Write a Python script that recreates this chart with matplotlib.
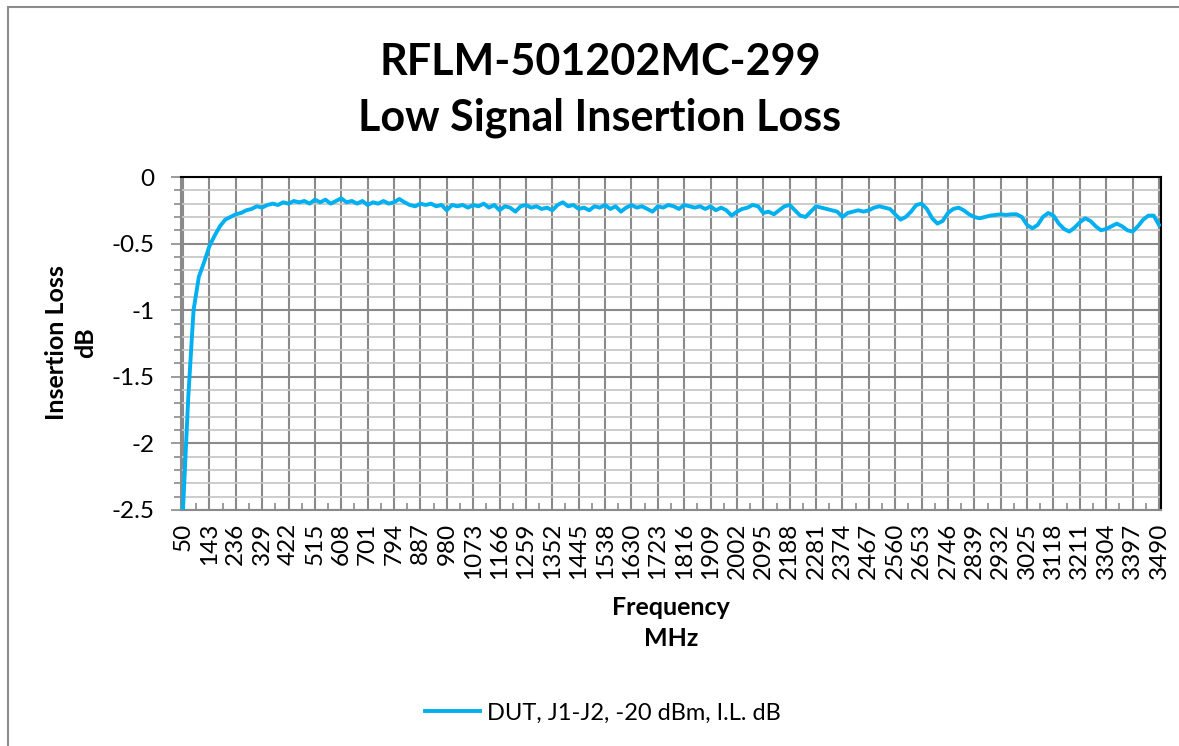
import matplotlib
matplotlib.use("Agg")
import matplotlib.pyplot as plt
from matplotlib.patches import Rectangle
from matplotlib.ticker import FixedLocator, MultipleLocator

plt.rcParams['font.family'] = ['Lato', 'DejaVu Sans']

# ---- data -------------------------------------------------------------
title_lines = ["RFLM-501202MC-299", "Low Signal Insertion Loss"]
series_name = "DUT, J1-J2, -20 dBm, I.L. dB"

freq_start = 50.0
freq_stop = 3490.0
loss_db = [
    -2.50, -1.65, -1.00, -0.75, -0.64, -0.52, -0.44, -0.37, -0.32, -0.30,
    -0.28, -0.27, -0.25, -0.24, -0.22, -0.23, -0.21, -0.20, -0.21, -0.19,
    -0.20, -0.18, -0.19, -0.18, -0.20, -0.17, -0.19, -0.17, -0.20, -0.18,
    -0.16, -0.19, -0.18, -0.20, -0.18, -0.21, -0.19, -0.20, -0.18, -0.20,
    -0.19, -0.165, -0.19, -0.21, -0.22, -0.20, -0.21, -0.20, -0.22, -0.21,
    -0.25, -0.21, -0.22, -0.21, -0.23, -0.21, -0.22, -0.20, -0.23, -0.21,
    -0.25, -0.22, -0.23, -0.26, -0.22, -0.21, -0.23, -0.22, -0.24, -0.23,
    -0.25, -0.21, -0.19, -0.22, -0.21, -0.24, -0.23, -0.25, -0.22, -0.23,
    -0.21, -0.24, -0.22, -0.26, -0.23, -0.21, -0.23, -0.22, -0.24, -0.26,
    -0.22, -0.23, -0.21, -0.22, -0.24, -0.21, -0.22, -0.23, -0.22, -0.24,
    -0.22, -0.25, -0.23, -0.25, -0.29, -0.26, -0.24, -0.23, -0.21, -0.22,
    -0.27, -0.26, -0.28, -0.25, -0.22, -0.21, -0.25, -0.29, -0.30, -0.26,
    -0.22, -0.23, -0.24, -0.25, -0.26, -0.30, -0.27, -0.26, -0.25, -0.26,
    -0.25, -0.23, -0.22, -0.23, -0.24, -0.28, -0.32, -0.30, -0.26, -0.21,
    -0.20, -0.24, -0.31, -0.35, -0.33, -0.27, -0.24, -0.23, -0.25, -0.28,
    -0.30, -0.31, -0.30, -0.29, -0.285, -0.28, -0.285, -0.28, -0.28, -0.30,
    -0.36, -0.385, -0.36, -0.30, -0.27, -0.29, -0.35, -0.39, -0.41, -0.38,
    -0.34, -0.31, -0.33, -0.37, -0.40, -0.39, -0.37, -0.35, -0.37, -0.40,
    -0.41, -0.37, -0.32, -0.29, -0.29, -0.36,
]

x_tick_labels = ["50", "143", "236", "329", "422", "515", "608", "701", "794",
                 "887", "980", "1073", "1166", "1259", "1352", "1445", "1538",
                 "1630", "1723", "1816", "1909", "2002", "2095", "2188", "2281",
                 "2374", "2467", "2560", "2653", "2746", "2839", "2932", "3025",
                 "3118", "3211", "3304", "3397", "3490"]
y_ticks = [0, -0.5, -1, -1.5, -2, -2.5]
y_tick_labels = ["0", "-0.5", "-1", "-1.5", "-2", "-2.5"]

# ---- derived positions -------------------------------------------------
n = len(loss_db)
step = (freq_stop - freq_start) / (n - 1)
freq = [freq_start + i * step for i in range(n)]
nt = len(x_tick_labels)
tstep = (freq_stop - freq_start) / (nt - 1)
x_major = [freq_start + i * tstep for i in range(nt)]
x_minor = [freq_start + (i + 0.5) * tstep for i in range(nt - 1)]

# ---- figure -----------------------------------------------------------
W, H = 1179, 746
fig = plt.figure(figsize=(W / 100, H / 100), dpi=100)
fig.patch.set_facecolor("white")

# outer chart border (runs off right/bottom)
fig.patches.append(Rectangle((8 / W, -0.1), 1.2, 1 - 7 / H + 0.1,
                             transform=fig.transFigure, fill=False,
                             edgecolor="#8c8c8c", linewidth=1.5))

ax = fig.add_axes([181 / W, 1 - 510 / H, (1161 - 181) / W, (510 - 177) / H])

px = (freq_stop - freq_start) / (1159 - 183)
ax.set_xlim(freq_start - 2 * px, freq_stop + 2 * px)
ax.set_ylim(-2.5, 0)

ax.plot(freq, loss_db, color="#00B0F0", linewidth=2.8, solid_joinstyle="round",
        zorder=3, label=series_name)

# grids
ax.yaxis.set_minor_locator(MultipleLocator(0.1))
ax.set_yticks(y_ticks)
ax.set_yticklabels(y_tick_labels)
ax.xaxis.set_major_locator(FixedLocator(x_major))
ax.xaxis.set_minor_locator(FixedLocator(x_minor))
ax.set_xticklabels(x_tick_labels, rotation=90, va="top", ha="center")

ax.grid(which="minor", axis="y", color="#c8c8c8", linewidth=1.3, zorder=0)
ax.grid(which="major", axis="y", color="#8a8a8a", linewidth=1.5, zorder=0)
ax.grid(which="major", axis="x", color="#8a8a8a", linewidth=1.5, zorder=0)
ax.set_axisbelow(True)

for s in ["top", "right"]:
    ax.spines[s].set_color("black")
    ax.spines[s].set_linewidth(1.5)
for s in ["left", "bottom"]:
    ax.spines[s].set_color("#8a8a8a")
    ax.spines[s].set_linewidth(1.5)

ax.tick_params(axis="x", which="major", direction="in", length=6, width=1.2,
               color="#8a8a8a", labelsize=17.5, pad=9)
ax.tick_params(axis="x", which="minor", direction="in", length=5, width=1.2,
               color="#8a8a8a")
ax.tick_params(axis="y", which="major", direction="out", length=7, width=1.2,
               color="#8a8a8a", labelsize=17.5, pad=12)
ax.tick_params(axis="y", which="minor", direction="out", length=5, width=1.2,
               color="#8a8a8a")

# titles / labels
fig.text(600 / W, 1 - 62 / H, title_lines[0], ha="center", va="center",
         fontsize=31, fontweight="bold")
fig.text(600 / W, 1 - 118 / H, title_lines[1], ha="center", va="center",
         fontsize=31, fontweight="bold")
fig.text(71 / W, 1 - 343 / H, "Insertion Loss\ndB", ha="center", va="center",
         rotation=90, fontsize=18, fontweight="bold", linespacing=1.35)
fig.text(671 / W, 1 - 623 / H, "Frequency\nMHz", ha="center", va="center",
         fontsize=18, fontweight="bold", linespacing=1.45)

fig.legend(loc="center", bbox_to_anchor=(603 / W, 1 - 713 / H), frameon=False,
           fontsize=17, handlelength=2.3, handletextpad=0.3)

fig.savefig("out.png", dpi=100, facecolor="white")
